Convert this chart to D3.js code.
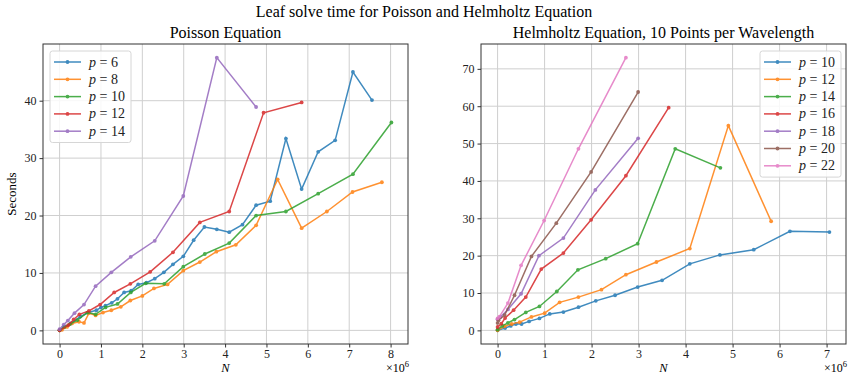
<!DOCTYPE html>
<html>
<head>
<meta charset="utf-8">
<script src="https://cdn.jsdelivr.net/npm/d3@7"></script>
<style>
  body { margin: 0; background: #fff; }
  svg { display: block; font-family: "Liberation Serif", "DejaVu Serif", serif; }
</style>
</head>
<body>
<svg width="848" height="375"></svg>
<script>
// Poisson: [N (x1e6), seconds]
const poisson6 = [[0,0],[0.1,0.6],[0.27,1.2],[0.5,2.4],[0.69,3.1],[0.89,3.5],[1.0,4.0],[1.11,4.3],[1.26,4.8],[1.4,5.5],[1.56,6.6],[1.73,6.9],[1.9,8.0],[2.1,8.3],[2.3,9.0],[2.52,10.1],[2.74,11.5],[2.99,12.9],[3.24,15.7],[3.5,18.0],[3.8,17.6],[4.1,17.1],[4.42,18.4],[4.75,21.8],[5.09,22.5],[5.47,33.4],[5.85,24.6],[6.25,31.1],[6.66,33.1],[7.09,45.0],[7.55,40.1]];
const poisson8 = [[0,0],[0.06,0.1],[0.18,0.6],[0.3,1.2],[0.47,1.5],[0.59,1.3],[0.71,3.0],[0.87,2.6],[1.05,3.1],[1.25,3.5],[1.48,4.1],[1.71,5.2],[2.0,6.0],[2.28,7.3],[2.61,8.0],[2.99,10.4],[3.39,11.9],[3.79,13.7],[4.26,14.9],[4.75,18.3],[5.27,26.3],[5.85,17.8],[6.46,20.7],[7.08,24.1],[7.79,25.8]];
const poisson10 = [[0,0],[0.12,0.6],[0.25,1.1],[0.43,1.8],[0.67,3.1],[0.87,2.8],[1.11,4.0],[1.4,4.6],[1.72,6.6],[2.08,8.2],[2.53,8.1],[2.99,11.1],[3.51,13.3],[4.1,15.2],[4.75,20.0],[5.47,20.7],[6.25,23.8],[7.09,27.2],[8.02,36.2]];
const poisson12 = [[0,0],[0.21,0.9],[0.34,1.9],[0.48,2.8],[0.71,3.4],[0.98,4.5],[1.32,6.6],[1.71,8.1],[2.19,10.2],[2.74,13.6],[3.39,18.8],[4.1,20.7],[4.93,37.9],[5.85,39.7]];
const poisson14 = [[0,0.2],[0.1,1.0],[0.2,1.7],[0.36,3.0],[0.59,4.5],[0.87,7.7],[1.25,10.1],[1.72,12.8],[2.3,15.6],[2.99,23.4],[3.8,47.5],[4.75,38.9]];

// Helmholtz, 10 points per wavelength
const helm10 = [[0,0],[0.16,0.6],[0.28,1.2],[0.39,1.7],[0.51,1.7],[0.67,2.4],[0.89,3.2],[1.11,4.4],[1.4,4.9],[1.72,6.2],[2.09,7.9],[2.5,9.4],[2.98,11.6],[3.5,13.4],[4.09,17.8],[4.73,20.2],[5.45,21.6],[6.22,26.5],[7.06,26.3]];
const helm12 = [[0,0],[0.15,1.1],[0.3,1.7],[0.47,2.2],[0.72,3.6],[1.0,4.6],[1.32,7.5],[1.72,8.9],[2.21,10.9],[2.73,14.9],[3.38,18.3],[4.09,21.9],[4.91,54.8],[5.82,29.2]];
const helm14 = [[0,0.2],[0.1,1.2],[0.22,2.0],[0.36,2.9],[0.6,4.8],[0.89,6.4],[1.26,10.4],[1.71,16.2],[2.3,19.2],[2.98,23.2],[3.78,48.6],[4.74,43.5]];
const helm16 = [[0,0.9],[0.08,1.8],[0.16,3.3],[0.34,5.4],[0.6,8.9],[0.93,16.4],[1.4,20.7],[1.99,29.6],[2.73,41.4],[3.64,59.6]];
const helm18 = [[0,3.0],[0.06,3.6],[0.22,5.6],[0.5,9.8],[0.88,20.0],[1.4,24.7],[2.08,37.6],[2.99,51.4]];
const helm20 = [[0,2.0],[0.02,2.7],[0.15,4.1],[0.36,9.4],[0.72,19.8],[1.25,28.7],[1.99,42.4],[2.99,63.8]];
const helm22 = [[0,3.2],[0.04,3.7],[0.22,7.3],[0.5,17.4],[0.99,29.4],[1.72,48.6],[2.73,73.0]];

const poissonLabels = ["6", "8", "10", "12", "14"];
const helmLabels = ["10", "12", "14", "16", "18", "20", "22"];
const colors = ["#1f77b4", "#ff7f0e", "#2ca02c", "#d62728", "#9467bd", "#8c564b", "#e377c2"];

const svg = d3.select("svg");

svg.append("text")
    .attr("x", 424).attr("y", 17)
    .attr("text-anchor", "middle")
    .attr("font-size", 16)
    .text("Leaf solve time for Poisson and Helmholtz Equation");

function pad(ext) {
    const d = (ext[1] - ext[0]) * 0.05;
    return [ext[0] - d, ext[1] + d];
}

function panel(opts) {
    const { left, right, top, bottom, series, labels, title, xMax, yMax, legendX, legendW } = opts;
    const all = series.flat();
    const x = d3.scaleLinear().domain(pad(d3.extent(all, d => d[0]))).range([left, right]);
    const y = d3.scaleLinear().domain(pad(d3.extent(all, d => d[1]))).range([bottom, top]);
    const xt = d3.range(0, xMax + 1, 1);
    const yt = d3.range(0, yMax + 1, 10);

    const g = svg.append("g");

    // grid
    g.append("g").selectAll("line").data(xt).join("line")
        .attr("x1", d => x(d)).attr("x2", d => x(d))
        .attr("y1", top).attr("y2", bottom)
        .attr("stroke", "#cfcfcf").attr("stroke-width", 1);
    g.append("g").selectAll("line").data(yt).join("line")
        .attr("y1", d => y(d)).attr("y2", d => y(d))
        .attr("x1", left).attr("x2", right)
        .attr("stroke", "#cfcfcf").attr("stroke-width", 1);

    // axes
    const xa = g.append("g").attr("transform", `translate(0,${bottom})`)
        .call(d3.axisBottom(x).tickValues(xt).tickSize(3.5).tickPadding(2).tickFormat(d3.format("d")));
    const ya = g.append("g").attr("transform", `translate(${left},0)`)
        .call(d3.axisLeft(y).tickValues(yt).tickSize(3.5).tickPadding(3).tickFormat(d3.format("d")));
    [xa, ya].forEach(a => {
        a.attr("font-family", null);
        a.select(".domain").remove();
        a.selectAll("text").attr("font-size", 12).attr("fill", "#222");
        a.selectAll("line").attr("stroke", "#333");
    });

    // lines
    const line = d3.line().x(d => x(d[0])).y(d => y(d[1]));
    series.forEach((s, i) => {
        const sg = g.append("g").attr("opacity", 0.85);
        sg.append("path").datum(s)
            .attr("d", line)
            .attr("fill", "none")
            .attr("stroke", colors[i])
            .attr("stroke-width", 1.5);
        sg.selectAll("circle").data(s).join("circle")
            .attr("cx", d => x(d[0])).attr("cy", d => y(d[1]))
            .attr("r", 1.9).attr("fill", colors[i]);
    });

    // frame
    g.append("rect")
        .attr("x", left).attr("y", top)
        .attr("width", right - left).attr("height", bottom - top)
        .attr("fill", "none").attr("stroke", "#333").attr("stroke-width", 1);

    // titles
    g.append("text")
        .attr("x", (left + right) / 2).attr("y", top - 6)
        .attr("text-anchor", "middle").attr("font-size", 16)
        .text(title);
    g.append("text")
        .attr("x", (left + right) / 2).attr("y", 372)
        .attr("text-anchor", "middle").attr("font-size", 12.5)
        .attr("font-style", "italic")
        .text("N");
    const mult = g.append("text")
        .attr("x", right + 1).attr("y", 372)
        .attr("text-anchor", "end").attr("font-size", 12);
    mult.append("tspan").text("×10");
    mult.append("tspan").attr("font-size", 8.5).attr("dy", -5).text("6");

    // legend
    const rowH = 17.3;
    const legTop = 51;
    const lg = g.append("g");
    lg.append("rect")
        .attr("x", legendX).attr("y", legTop)
        .attr("width", legendW).attr("height", labels.length * rowH + 5)
        .attr("rx", 2.5)
        .attr("fill", "#fff").attr("fill-opacity", 0.85)
        .attr("stroke", "#d6d6d6");
    labels.forEach((lab, i) => {
        const cy = legTop + 11 + i * rowH;
        const row = lg.append("g").attr("opacity", 0.85);
        row.append("line")
            .attr("x1", legendX + 4).attr("x2", legendX + 31)
            .attr("y1", cy).attr("y2", cy)
            .attr("stroke", colors[i]).attr("stroke-width", 1.5);
        row.append("circle").attr("cx", legendX + 17.5).attr("cy", cy).attr("r", 1.9).attr("fill", colors[i]);
        const t = lg.append("text")
            .attr("x", legendX + 39).attr("y", cy + 4.5)
            .attr("font-size", 14).attr("fill", "#222");
        t.append("tspan").attr("font-style", "italic").text("p");
        t.append("tspan").text(" = " + lab);
    });
    return g;
}

panel({
    left: 43, right: 408, top: 44, bottom: 344,
    series: [poisson6, poisson8, poisson10, poisson12, poisson14],
    labels: poissonLabels,
    title: "Poisson Equation",
    xMax: 8, yMax: 40,
    legendX: 50, legendW: 81
});

panel({
    left: 481, right: 846, top: 44, bottom: 344,
    series: [helm10, helm12, helm14, helm16, helm18, helm20, helm22],
    labels: helmLabels,
    title: "Helmholtz Equation, 10 Points per Wavelength",
    xMax: 7, yMax: 70,
    legendX: 760, legendW: 81
});

svg.append("text")
    .attr("transform", "translate(16,194) rotate(-90)")
    .attr("text-anchor", "middle")
    .attr("font-size", 13)
    .text("Seconds");
</script>
</body>
</html>
